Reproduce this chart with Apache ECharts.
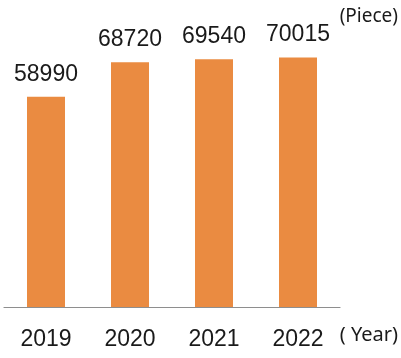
<!DOCTYPE html>
<html><head><meta charset="utf-8">
<script src="https://cdn.jsdelivr.net/npm/echarts@6/dist/echarts.min.js"></script>
<style>html,body{margin:0;padding:0;background:#fff}#c{width:401px;height:358px}</style>
</head><body><div id="c"></div>
<script>
const categories = ['2019', '2020', '2021', '2022'];
const values = [58990, 68720, 69540, 70015];
const unitY = '(Piece)';
const unitX = '( Year)';
const chart = echarts.init(document.getElementById('c'), null, {renderer: 'canvas'});
chart.setOption({
  animation: false,
  grid: {left: 4, right: 61, top: 22, bottom: 51},
  xAxis: {
    type: 'category', data: categories,
    axisLine: {lineStyle: {color: '#8e8e8e', width: 1.2}},
    axisTick: {show: false},
    axisLabel: {color: '#1a1a1a', fontSize: 23, fontFamily: 'Liberation Sans', margin: 21}
  },
  yAxis: {type: 'value', min: 0, max: 80000, show: false, splitLine: {show: false}},
  series: [{
    type: 'bar', data: values, barWidth: 38,
    itemStyle: {color: '#EA8B41'},
    label: {show: true, position: 'top', distance: 11, color: '#1a1a1a', fontSize: 23, fontFamily: 'Liberation Sans'}
  }],
  graphic: [
    {type: 'text', right: 3, top: 7, style: {text: unitY, fontSize: 19, fontFamily: 'Noto Sans', fill: '#1a1a1a'}},
    {type: 'text', right: 3, top: 325, style: {text: unitX, fontSize: 20, fontFamily: 'Noto Sans', fill: '#1a1a1a'}}
  ]
});
</script></body></html>
